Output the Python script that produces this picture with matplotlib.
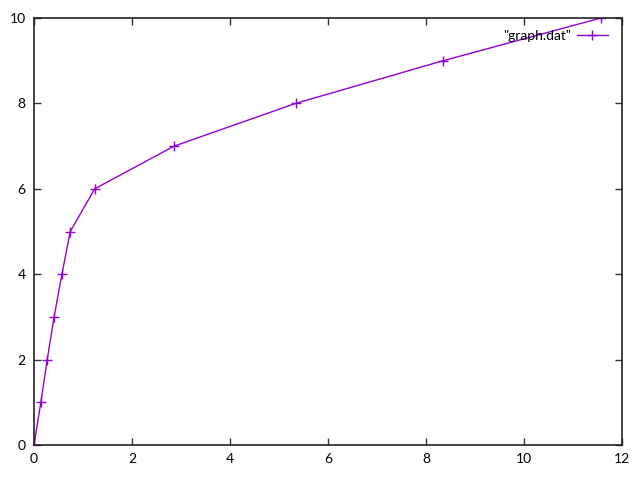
import matplotlib
matplotlib.use("Agg")
import matplotlib.pyplot as plt

x_vals = [0.0, 0.14, 0.27, 0.41, 0.57, 0.74, 1.24, 2.86, 5.34, 8.35, 11.57]
y_vals = [0, 1, 2, 3, 4, 5, 6, 7, 8, 9, 10]
x_ticks = [0, 2, 4, 6, 8, 10, 12]
y_ticks = [0, 2, 4, 6, 8, 10]

plt.rcParams["font.family"] = ["Lato", "DejaVu Sans"]

fig = plt.figure(figsize=(6.4, 4.8), dpi=100)
ax = fig.add_axes([34 / 640, 35 / 480, 588 / 640, 427 / 480])
ax.plot(x_vals, y_vals, color="#9400D3", lw=1, marker="+", ms=7, mew=1,
        label='"graph.dat"')
ax.set_xlim(0, 12)
ax.set_ylim(0, 10)
ax.set_xticks(x_ticks)
ax.set_yticks(y_ticks)
ax.tick_params(direction="in", top=True, right=True, length=5, width=1,
               labelsize=10, color="#333333", pad=6)
for s in ax.spines.values():
    s.set_linewidth(1.2)
    s.set_color("#222222")
ax.legend(loc="upper right", frameon=False, markerfirst=False, fontsize=10,
          handlelength=2.3, handletextpad=0.4, borderaxespad=0.3,
          bbox_to_anchor=(0.9935, 0.995))
fig.savefig("out.png", dpi=100)
